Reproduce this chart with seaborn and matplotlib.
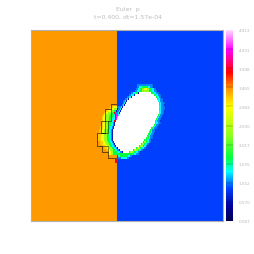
import matplotlib
matplotlib.use("Agg")
import matplotlib.pyplot as plt
import numpy as np
import seaborn as sns
from matplotlib.colors import LinearSegmentedColormap

title_lines = ["Euler  p", "t=0.400, dt=1.57e-04"]
tick_values = [4.913, 4.431, 3.948, 3.465, 2.983, 2.500, 2.017, 1.535, 1.052, 0.570, 0.087]

# pressure of each letter used in the ring strings
levels = {
    "O": 3.42, "P": 3.20, "B": 0.91, "N": 0.6, "C": 1.08, "A": 1.35, "G": 1.72, "L": 2.30,
    "Y": 2.95, "R": 3.85, "M": 4.43,
}

# grid is 192 columns by 96 rows, contact sits at column 86
n_cols = 192
n_rows = 96
contact_col = 86
first_row = 27

# bubble edges per row (columns), equal values mean no white in that row
white_left = [
    114, 114, 115, 115, 108, 104, 101, 98, 96, 95, 94, 92, 91, 90, 89, 88, 87, 86, 85, 84, 84,
    83, 83, 82, 82, 82, 82, 82, 82, 83, 84, 85, 87, 89, 92, 97, 94, 94, 86, 86, 86,
]
white_right = [
    114, 114, 115, 115, 120, 123, 125, 126, 127, 128, 128, 128, 128, 128, 128, 127, 126, 125,
    124, 124, 123, 122, 120, 119, 118, 117, 116, 115, 113, 112, 110, 108, 105, 102, 98, 97,
    94, 94, 86, 86, 86,
]

# cells left of the bubble edge, read left to right and ending at the edge
left_ring = [
    "CCCCCCCC", "CCAAAGGG", "CCAAGGLLYY", "CCAAGGGLLLL", "CCAAAGGN", "CCAAAN", "CCAAN",
    "CCAN", "CCAN", "CAN", "CAN", "PPPYYYYCCCCAN", "PPPYYLLLNCCAN", "PPYYYLLLGGNCCAN",
    "PPYYLLLLGGRCCCAN", "PYYLLLLGGGGARMMA", "PYYLLLLGGGGAARMA", "PYYLLLLGGGAAARM",
    "PPYYLLLLGGGAARR", "PPYYLLLGGGAACN", "PPYYLLLGGGAACN", "PPPYYLLLGGAACN",
    "PPPYYLLLGGAACN", "PPPYYLLLGGAACN", "PPPYYLLLGGAACN", "PPPYYYLLLGGAACN",
    "PPPYYYLLLGGAACN", "PPPYYYLLLGGAACN", "PPPYYYLLLGGAACN", "PPPYYLLLGGAACN",
    "PPPYYYLLLGGAACN", "PPPYYLLLGGAACN", "PPPYYLLLGGAACN", "PPYYLLLGGAACCN",
    "PYYLLGGGGAAACCN", "PYYLLGGGGGGGGGGGGGGG", "AAAGGGGG", "CCCCAAAA", "RR", "RR", "",
]

# cells right of the bubble edge, read left to right from the edge
right_ring = [
    "CCCCCCCC", "GGGAACCC", "YLLGGGAACC", "LLLGGGAACCC", "GGGAACCC", "GGAACCC", "GAACC",
    "GAACCC", "AACCC", "GACCCC", "GACCC", "AACCCC", "GACCCC", "AACCC", "AACCC",
    "GACCC", "GACCC", "GACCC", "GACCC", "GAACCC", "GACCC", "GACCC", "GGACCC",
    "GACCC", "GGACCC", "GGACCC", "GGACCC", "GLGACCC", "GLGAACC", "GLLGAACC",
    "GLLGAACC", "GLYLGAAC", "GLYLGGAACC", "GLYLLGAACC", "GLYLLGGAACC", "GGGGGGAACCC",
    "GGGAACC", "AACC", "", "", "",
]

# refinement block outline and inner walls, in columns and rows
block_x = [86, 80, 80, 74, 74, 70, 70, 66, 66, 71, 71, 77, 77, 86]
block_y = [37, 37, 39.5, 39.5, 45.5, 45.5, 52, 52, 58.5, 58.5, 61.5, 61.5, 64.5, 64.5]
wall_x = [80, 80, 74, np.nan, 74, 74, 70, np.nan, 70, 77, 77, np.nan, 77, 77, 70]
wall_y = [39.5, 45.5, 45.5, np.nan, 45.5, 52, 52, np.nan, 58.5, 58.5, 61.5, np.nan, 45.5, 52, 52]
contact_rows = [[0, 38], [63, 96]]


def build_grid():
    grid = np.full((n_rows, n_cols), levels["B"])
    grid[:, :contact_col] = levels["O"]
    for i, (wl, wr) in enumerate(zip(white_left, white_right)):
        row = first_row + i
        grid[row, wl:wr] = np.nan
        for j, ch in enumerate(left_ring[i]):
            grid[row, wl - len(left_ring[i]) + j] = levels[ch]
        for j, ch in enumerate(right_ring[i]):
            grid[row, wr + j] = levels[ch]
    return grid


def main():
    sns.set_theme(style="white")
    cmap = LinearSegmentedColormap.from_list(
        "flash",
        [
            (0.0, "#000050"), (0.08, "#0000a0"), (0.17, "#0040ff"), (0.26, "#00ffff"),
            (0.33, "#00ff40"), (0.45, "#90ff20"), (0.6, "#ffff00"), (0.69, "#ff9900"),
            (0.78, "#ff0000"), (0.9, "#ff00ff"), (1.0, "#ffd8ff"),
        ],
    )

    fig = plt.figure(figsize=(2.55, 2.55), dpi=100)
    ax = fig.add_axes([31 / 255, 33 / 255, 192 / 255, 191 / 255])
    cax = fig.add_axes([226 / 255, 33 / 255, 7.5 / 255, 191 / 255])

    sns.heatmap(
        build_grid(), ax=ax, cbar_ax=cax, cmap=cmap,
        vmin=tick_values[-1], vmax=tick_values[0],
        xticklabels=False, yticklabels=False,
        cbar_kws={"ticks": tick_values},
    )

    ax.plot(block_x, block_y, color="#302010", lw=0.5)
    ax.plot(wall_x, wall_y, color="#302010", lw=0.4)
    for rows in contact_rows:
        ax.plot([contact_col, contact_col], rows, color="#6a4410", lw=0.8)

    # faint block edge following the outside of the ring
    ring_end = [wr + len(s) for wr, s in zip(white_right, right_ring)]
    ax.step(ring_end[:36], range(first_row, first_row + 36), color="#002080", lw=0.3, alpha=0.6)

    for spine in ax.spines.values():
        spine.set_visible(True)
        spine.set_color("#b0b0b0")
        spine.set_linewidth(0.8)

    cax.tick_params(length=0, labelsize=3.0, labelcolor="#b8b8b8", pad=3.5)
    cax.set_yticklabels([f"{v:.3f}" for v in tick_values])
    for v in tick_values[1:-1]:
        cax.axhline(v, color="#000000", lw=0.3, alpha=0.5)

    fig.text(0.5, 245 / 255, title_lines[0], ha="center", va="center", fontsize=4.4, color="#bcbcbc")
    fig.text(0.5, 237.5 / 255, title_lines[1], ha="center", va="center", fontsize=4.4, color="#bcbcbc")

    fig.savefig("out.png", dpi=100)


if __name__ == "__main__":
    main()
